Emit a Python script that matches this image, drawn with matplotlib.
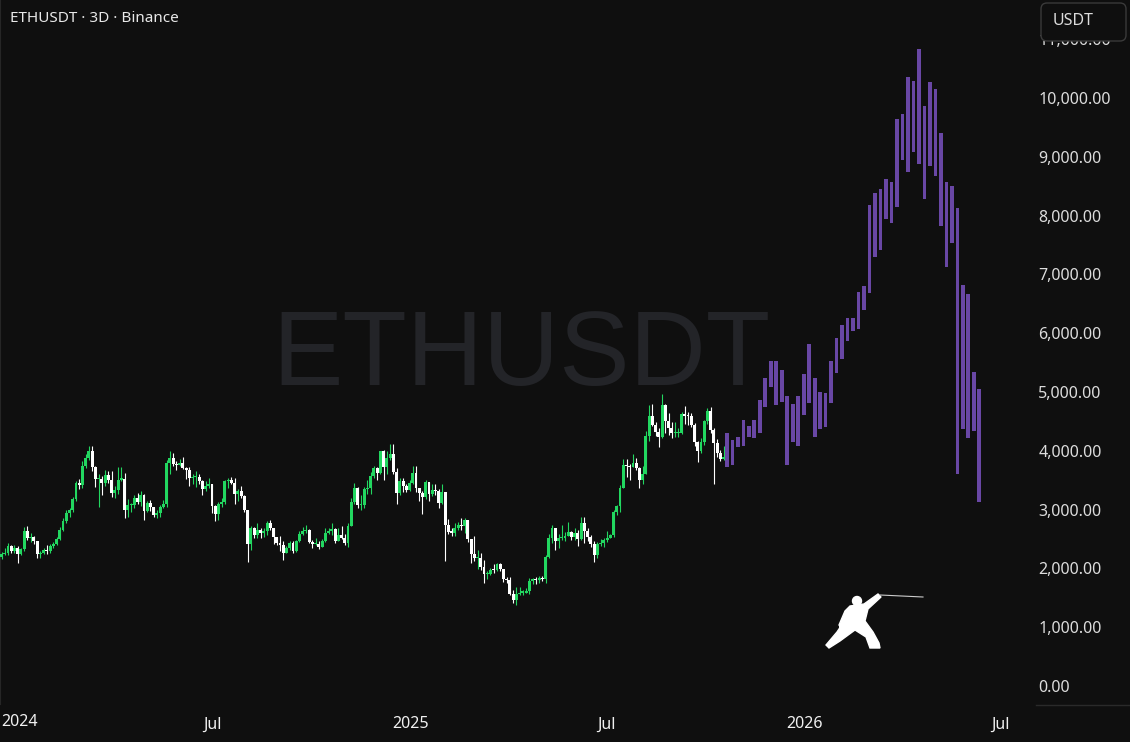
import numpy as np
import pandas as pd
import matplotlib
matplotlib.use("Agg")
import matplotlib.pyplot as plt
import matplotlib.dates as mdates
from matplotlib.patches import FancyBboxPatch, Polygon, Circle

# --- DATA ---
# ETHUSDT 3D candles, first candle opens 2023-12-16
first_open = 2230
closes = [
    2200, 2240, 2270, 2380, 2300, 2350, 2240, 2330, 2630, 2520,
    2530, 2460, 2240, 2260, 2310, 2300, 2380, 2420, 2500, 2650,
    2800, 2940, 2990, 3180, 3450, 3420, 3750, 3880, 3990, 3720,
    3520, 3520, 3450, 3590, 3510, 3290, 3330, 3510, 3520, 3000,
    3080, 3080, 3200, 3130, 3250, 2980, 3120, 3050, 2900, 2950,
    3050, 3100, 3800, 3870, 3780, 3760, 3790, 3710, 3680, 3530,
    3560, 3560, 3490, 3350, 3410, 3440, 3060, 2930, 3100, 3130,
    3480, 3510, 3450, 3270, 3320, 3230, 2990, 2420, 2690, 2560,
    2660, 2610, 2630, 2770, 2690, 2530, 2430, 2390, 2270, 2340,
    2440, 2300, 2470, 2580, 2640, 2660, 2450, 2410, 2420, 2370,
    2470, 2610, 2640, 2670, 2470, 2570, 2510, 2440, 2720, 3130,
    3370, 3070, 3080, 3350, 3360, 3580, 3710, 3630, 3990, 3720,
    3880, 3950, 3640, 3280, 3490, 3410, 3330, 3450, 3630, 3360,
    3280, 3220, 3470, 3270, 3330, 3320, 3120, 3300, 2730, 2620,
    2610, 2680, 2740, 2720, 2820, 2500, 2240, 2170, 2180, 2020,
    1910, 1910, 1980, 1970, 2070, 1990, 1820, 1800, 1570, 1470,
    1570, 1590, 1590, 1610, 1790, 1820, 1800, 1840, 1820, 2200,
    2510, 2680, 2460, 2520, 2520, 2550, 2620, 2540, 2600, 2500,
    2770, 2640, 2530, 2410, 2230, 2420, 2430, 2480, 2510, 2560,
    2960, 3060, 3370, 3760, 3740, 3720, 3800, 3700, 3500, 3610,
    4250, 4600, 4440, 4320, 4230, 4780, 4500, 4390, 4300, 4300,
    4310, 4620, 4600, 4590, 4440, 4150, 4000, 4150, 4500, 4670,
    4350, 4130, 3960, 3860, 3890,
]
highs = [
    2260, 2280, 2340, 2440, 2400, 2400, 2380, 2350, 2700, 2720,
    2600, 2550, 2470, 2290, 2350, 2390, 2420, 2450, 2540, 2700,
    2860, 2990, 3030, 3220, 3490, 3520, 3830, 3950, 4090, 4080,
    3740, 3600, 3580, 3680, 3650, 3650, 3400, 3720, 3730, 3620,
    3180, 3120, 3250, 3290, 3320, 3260, 3150, 3170, 3050, 3000,
    3080, 3160, 3840, 3990, 3970, 3830, 3860, 3890, 3720, 3720,
    3610, 3650, 3600, 3500, 3480, 3530, 3440, 3080, 3130, 3200,
    3500, 3540, 3560, 3530, 3350, 3400, 3250, 3000, 2720, 2710,
    2780, 2680, 2690, 2800, 2820, 2690, 2540, 2550, 2470, 2380,
    2460, 2460, 2490, 2640, 2700, 2730, 2670, 2490, 2520, 2470,
    2500, 2690, 2680, 2770, 2680, 2690, 2720, 2580, 2780, 3200,
    3450, 3390, 3250, 3380, 3500, 3640, 3750, 3730, 4000, 4010,
    3990, 4110, 4110, 3700, 3540, 3530, 3430, 3500, 3740, 3740,
    3330, 3310, 3500, 3460, 3440, 3430, 3350, 3440, 3300, 2840,
    2690, 2780, 2790, 2850, 2850, 2830, 2500, 2550, 2320, 2260,
    2140, 1960, 2010, 2070, 2100, 2100, 1990, 1860, 1850, 1640,
    1690, 1690, 1640, 1660, 1830, 1830, 1860, 1870, 1870, 2230,
    2590, 2730, 2630, 2590, 2740, 2620, 2790, 2630, 2680, 2660,
    2880, 2870, 2680, 2560, 2460, 2450, 2500, 2520, 2640, 2590,
    3000, 3080, 3420, 3860, 3860, 3780, 3940, 3880, 3720, 3750,
    4330, 4780, 4790, 4490, 4380, 4960, 4800, 4640, 4490, 4490,
    4390, 4660, 4770, 4660, 4640, 4470, 4170, 4220, 4530, 4720,
    4740, 4390, 4200, 4010, 4080,
]
lows = [
    2150, 2160, 2220, 2220, 2270, 2270, 2100, 2220, 2300, 2480,
    2450, 2420, 2170, 2170, 2240, 2240, 2260, 2340, 2400, 2480,
    2640, 2780, 2880, 2960, 3150, 3350, 3360, 3700, 3850, 3660,
    3380, 3050, 3250, 3400, 3450, 3220, 3200, 3260, 3480, 2850,
    2870, 2960, 3020, 3100, 3060, 2820, 2960, 2980, 2870, 2860,
    2880, 3020, 3050, 3600, 3740, 3680, 3750, 3690, 3520, 3400,
    3440, 3380, 3440, 3240, 3320, 3360, 2950, 2810, 2820, 3050,
    3100, 3370, 3430, 3100, 3150, 3200, 2960, 2110, 2320, 2520,
    2520, 2520, 2540, 2560, 2660, 2420, 2400, 2300, 2150, 2260,
    2310, 2270, 2280, 2450, 2570, 2600, 2440, 2350, 2390, 2330,
    2360, 2450, 2580, 2560, 2440, 2460, 2500, 2400, 2360, 2720,
    3100, 3020, 3000, 3030, 3260, 3260, 3530, 3500, 3600, 3500,
    3600, 3850, 3600, 3100, 3240, 3300, 3300, 3320, 3440, 3300,
    3150, 2920, 3180, 3150, 3230, 3250, 3030, 3100, 2120, 2580,
    2550, 2550, 2660, 2650, 2610, 2450, 2100, 2130, 1990, 1980,
    1760, 1820, 1880, 1930, 1950, 1960, 1770, 1760, 1540, 1410,
    1385, 1540, 1540, 1580, 1560, 1740, 1740, 1750, 1780, 1750,
    2180, 2430, 2320, 2340, 2490, 2460, 2580, 2480, 2480, 2380,
    2480, 2440, 2470, 2370, 2110, 2180, 2380, 2370, 2450, 2510,
    2530, 2910, 2960, 3360, 3550, 3500, 3720, 3680, 3360, 3440,
    3600, 4170, 4430, 4250, 4060, 4220, 4310, 4270, 4210, 4230,
    4230, 4280, 4450, 4440, 4400, 4080, 3810, 3970, 4100, 4450,
    4300, 3430, 3900, 3830, 3840,
]

# projected bars (purple), top / bottom of each bar
proj_hi = [
    4300, 4180, 4230, 4520, 4420, 4520, 4860, 5240, 5525, 5525,
    5370, 4930, 4790, 4930, 5300, 5810, 5240, 5000, 4980, 5525,
    5920, 6140, 6260, 6260, 6700, 6800, 8180, 8380, 8450, 8620,
    8570, 9640, 9720, 10350, 10290, 10830, 9860, 10270, 10150, 9400,
    8570, 8500, 8130, 6820, 6660, 5340, 5050,
]
proj_lo = [
    3720, 3760, 4060, 4080, 4230, 4220, 4300, 4740, 5080, 4780,
    4830, 3760, 4150, 4080, 4610, 4810, 4230, 4370, 4400, 4810,
    5320, 5560, 5865, 6035, 6070, 6390, 6680, 7290, 7410, 7940,
    7870, 8140, 8940, 8740, 9080, 8870, 8280, 8840, 8670, 7820,
    7120, 7530, 3600, 4370, 4220, 4340, 3130,
]

price_ticks = [0, 1000, 2000, 3000, 4000, 5000, 6000, 7000, 8000, 9000, 10000, 11000]
time_ticks = ["2024-07-01", "2025-01-01", "2025-07-01", "2026-01-01", "2026-07-01"]
time_labels = ["Jul", "2025", "Jul", "2026", "Jul"]
first_label = "2024"

# --- STYLE ---
BG = "#0f0f0f"
UP = "#22d760"
DOWN = "#ffffff"
PROJ = "#6947a5"
TXT = "#dcdcdc"
FONT = ["Noto Sans", "DejaVu Sans"]

dates = pd.date_range("2023-12-16", periods=len(closes), freq="3D")
proj_dates = pd.date_range("2025-10-21", periods=len(proj_hi), freq="122h")

x = mdates.date2num(dates)
xp = mdates.date2num(proj_dates)
c = np.array(closes, float)
o = np.concatenate([[first_open], c[:-1]])
h = np.array(highs, float)
l = np.array(lows, float)
up = c >= o
cols = np.where(up, UP, DOWN)

fig = plt.figure(figsize=(11.3, 7.42), dpi=100, facecolor=BG)
ax = fig.add_axes([0, 1 - 704 / 742, 1030 / 1130, 704 / 742])
ax.set_facecolor(BG)

# watermark
ax.text(0.506, 1 - 385 / 704, "ETHUSDT", transform=ax.transAxes, ha="center", va="baseline",
        fontsize=76, family="Liberation Sans", color="#232428", zorder=0)

# candles
ax.vlines(x, np.minimum(l, np.minimum(o, c)), np.maximum(h, np.maximum(o, c)),
          colors=cols, linewidth=0.8, zorder=2)
body_lo = np.minimum(o, c)
body_h = np.maximum(np.abs(c - o), 20)
ax.bar(x, body_h, bottom=body_lo, width=2.7, color=cols, linewidth=0, zorder=3)

# projection bars
ph = np.array(proj_hi, float)
pl = np.array(proj_lo, float)
ax.bar(xp, ph - pl, bottom=pl, width=3.4, color=PROJ, linewidth=0, zorder=3)

t0 = mdates.date2num(pd.Timestamp("2024-01-01"))
ax.set_xlim(t0 - 14.4, t0 + 939.8)
ax.set_ylim(-306, 11667)

ax.yaxis.tick_right()
ax.set_yticks(price_ticks)
ax.set_yticklabels([f"{v:,.2f}" for v in price_ticks])
ax.set_xticks(mdates.date2num(pd.to_datetime(time_ticks)))
ax.set_xticklabels(time_labels)
ax.tick_params(axis="y", length=0, pad=6, labelsize=11.5, labelcolor=TXT)
ax.tick_params(axis="x", length=0, pad=9, labelsize=11.5, labelcolor="#f0f0f0")
for lab in ax.get_yticklabels() + ax.get_xticklabels():
    lab.set_family(FONT)
for lab in ax.get_xticklabels():
    if lab.get_text().isdigit():
        lab.set_fontweight("bold")
for s in ["top", "right", "bottom"]:
    ax.spines[s].set_visible(False)
ax.spines["left"].set_color("#262626")

# overlay in pixel coordinates for chrome
ov = fig.add_axes([0, 0, 1, 1], zorder=5)
ov.set_xlim(0, 1130)
ov.set_ylim(742, 0)
ov.axis("off")
ov.patch.set_alpha(0)

# first time label is clamped to the left edge, like the reference
ov.text(1, 722, first_label, va="center", ha="left", fontsize=11.5, fontweight="bold",
        color="#f0f0f0", family=FONT)

ov.text(10, 18, "ETHUSDT \u00b7 3D \u00b7 Binance", va="center", ha="left",
        fontsize=11, color="#e8e8e8", family=FONT)
ov.add_patch(FancyBboxPatch((1041, 3), 85, 38, boxstyle="round,pad=0,rounding_size=6",
                            facecolor=BG, edgecolor="#3a3a3a", linewidth=1))
ov.text(1053, 21, "USDT", va="center", ha="left", fontsize=11.5, color=TXT, family=FONT)
ov.plot([1036, 1130], [704.5, 704.5], color="#2a2a2a", linewidth=1)

# fencer logo
ov.plot([880, 923], [595, 597], color="#cccccc", linewidth=0.8)
ov.add_patch(Circle((857, 601), 4.5, color="white"))
ov.add_patch(Polygon([(850, 606), (864, 604), (878, 594), (881, 597), (868, 609),
                      (865, 621), (873, 632), (879, 643), (880, 648), (870, 648),
                      (866, 637), (855, 630), (840, 641), (829, 648), (826, 645),
                      (837, 632), (845, 620), (841, 628), (839, 625), (845, 611)],
                     closed=True, color="white"))

fig.savefig("out.png", dpi=100, facecolor=BG)
